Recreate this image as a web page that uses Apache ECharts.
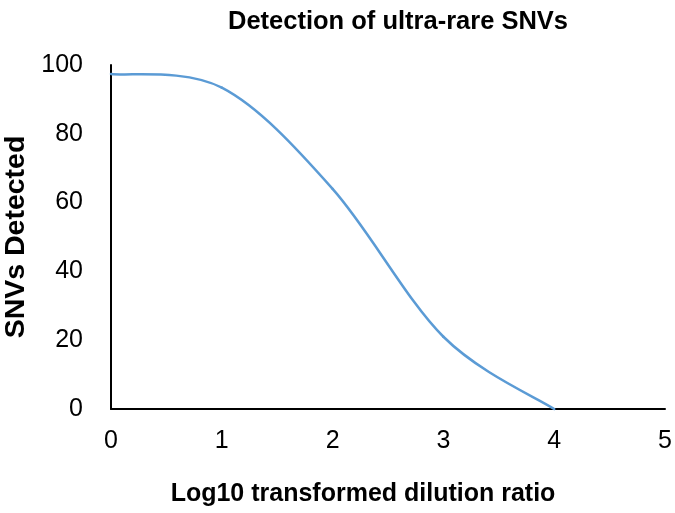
<!DOCTYPE html>
<html>
<head>
<meta charset="utf-8">
<script src="https://cdn.jsdelivr.net/npm/echarts@6/dist/echarts.min.js"></script>
<style>html,body{margin:0;padding:0;background:#fff}#c{width:675px;height:513px}</style>
</head>
<body>
<div id="c"></div>
<script>
var xValues = [0, 1, 2, 3, 4];
var snvsDetected = [97.4, 93.4, 64, 21, 0];
var xTicks = [0, 1, 2, 3, 4, 5];
var yTicks = [0, 20, 40, 60, 80, 100];

var FONT = '"Liberation Sans", Arial, sans-serif';
var LINE_COLOR = '#5B9BD5';
var chart = echarts.init(document.getElementById('c'), null, {renderer: 'canvas'});

function ptAt(api, j) {
  var k = Math.max(0, Math.min(xValues.length - 1, j));
  return api.coord([xValues[k], snvsDetected[k]]);
}

// Smoothed (Catmull-Rom style) segment between data point i and i+1,
// positioned with the chart's own coordinate system.
function renderSegment(params, api) {
  var i = params.dataIndex;
  if (i >= xValues.length - 1) return {type: 'group', children: []};
  var p0 = ptAt(api, i - 1), p1 = ptAt(api, i), p2 = ptAt(api, i + 1), p3 = ptAt(api, i + 2);
  return {
    type: 'bezierCurve',
    shape: {
      x1: p1[0], y1: p1[1], x2: p2[0], y2: p2[1],
      cpx1: p1[0] + (p2[0] - p0[0]) / 6, cpy1: p1[1] + (p2[1] - p0[1]) / 6,
      cpx2: p2[0] - (p3[0] - p1[0]) / 6, cpy2: p2[1] - (p3[1] - p1[1]) / 6
    },
    style: {stroke: LINE_COLOR, lineWidth: 2.5, fill: null, lineCap: 'round'}
  };
}

chart.setOption({
  backgroundColor: '#fff',
  animation: false,
  title: {
    text: 'Detection of ultra-rare SNVs',
    left: 393, top: 4, textAlign: 'center',
    textStyle: {fontFamily: FONT, fontWeight: 'bold', fontSize: 25.5, color: '#000'}
  },
  grid: {left: 111, right: 10, top: 65, bottom: 104, containLabel: false, outerBoundsMode: 'none'},
  xAxis: {
    type: 'value', min: 0, max: 5, interval: 1,
    name: 'Log10 transformed dilution ratio',
    nameLocation: 'middle', nameGap: 73,
    nameTextStyle: {fontFamily: FONT, fontWeight: 'bold', fontSize: 25, color: '#000', padding: [0, 50, 0, 0]},
    axisLine: {show: true, lineStyle: {color: '#000', width: 2}},
    axisTick: {show: false},
    splitLine: {show: false},
    axisLabel: {fontFamily: FONT, fontSize: 25, color: '#000', margin: 20,
      formatter: function (v) { return xTicks.indexOf(v) >= 0 ? String(v) : ''; }}
  },
  yAxis: {
    type: 'value', min: 0, max: 100, interval: 20,
    name: 'SNVs Detected',
    nameLocation: 'middle', nameGap: 80, nameRotate: 90,
    nameTextStyle: {fontFamily: FONT, fontWeight: 'bold', fontSize: 28.5, color: '#000'},
    axisLine: {show: true, lineStyle: {color: '#000', width: 2}},
    axisTick: {show: false},
    splitLine: {show: false},
    axisLabel: {fontFamily: FONT, fontSize: 25, color: '#000', margin: 28,
      formatter: function (v) { return yTicks.indexOf(v) >= 0 ? String(v) : ''; }}
  },
  series: [{
    type: 'custom',
    coordinateSystem: 'cartesian2d',
    clip: false,
    data: xValues.map(function (x, i) { return [x, snvsDetected[i]]; }),
    renderItem: renderSegment
  }]
});
</script>
</body>
</html>
